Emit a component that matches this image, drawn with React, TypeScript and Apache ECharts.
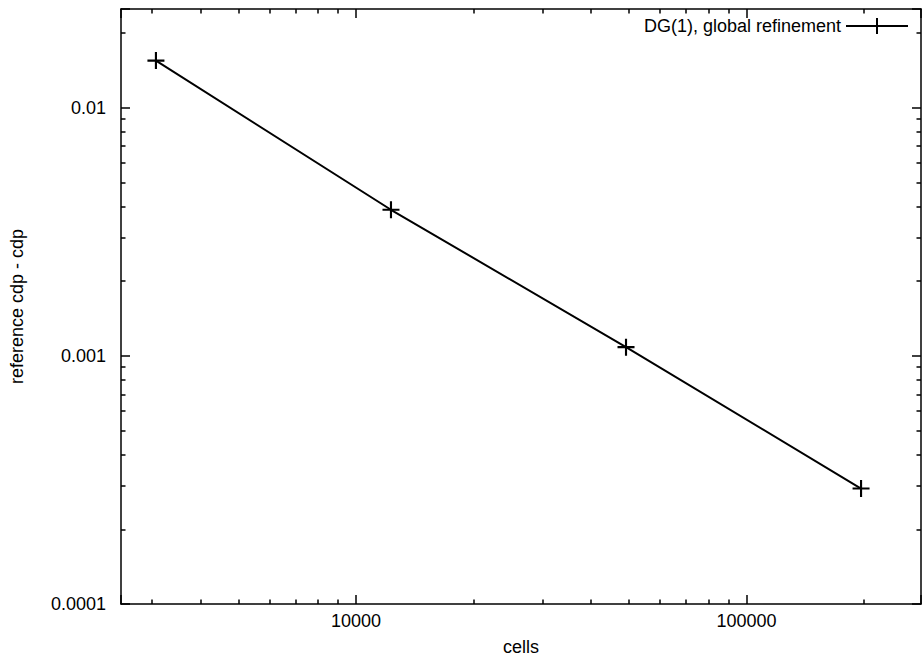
import React, { useEffect, useRef } from "react";
import * as echarts from "echarts";

const seriesName = "DG(1), global refinement";
const cells = [3072, 12288, 49152, 196608];
const errors = [0.01549, 0.00388, 0.001084, 0.000292];

const xRange = [2500, 280000];
const yRange = [0.0001, 0.025];

const xTickValues = [10000, 100000];
const xTickLabels = ["10000", "100000"];
const yTickValues = [0.0001, 0.001, 0.01];
const yTickLabels = ["0.0001", "0.001", "0.01"];

const xMinorValues = [
  3000, 4000, 5000, 6000, 7000, 8000, 9000,
  20000, 30000, 40000, 50000, 60000, 70000, 80000, 90000,
  200000,
];
const yMinorValues = [
  0.0002, 0.0003, 0.0004, 0.0005, 0.0006, 0.0007, 0.0008, 0.0009,
  0.002, 0.003, 0.004, 0.005, 0.006, 0.007, 0.008, 0.009,
  0.02,
];

const FONT = "'Liberation Sans', Arial, Helvetica, sans-serif";
const BLACK = "#000";

function labelFor(values: number[], labels: string[]) {
  return (v: number) => {
    const i = values.findIndex((t) => Math.abs(t - v) / t < 1e-6);
    return i >= 0 ? labels[i] : "";
  };
}

const lineStyle = { color: BLACK, width: 1.5 };

function majorAxis(position: string, range: number[], showLabels: boolean, fmt: any, extra: any = {}) {
  return {
    type: "log",
    logBase: 10,
    position,
    min: range[0],
    max: range[1],
    axisLine: { show: true, lineStyle },
    axisTick: { show: true, inside: true, length: 9, lineStyle },
    axisLabel: {
      show: showLabels,
      formatter: fmt,
      color: BLACK,
      fontSize: 18,
      fontFamily: FONT,
    },
    splitLine: { show: false },
    minorTick: { show: false },
    ...extra,
  };
}

function minorAxis(position: string, range: number[], minor: number[]) {
  return {
    type: "value",
    position,
    min: Math.log10(range[0]),
    max: Math.log10(range[1]),
    axisLine: { show: false },
    axisTick: {
      show: true,
      inside: true,
      length: 4.5,
      lineStyle,
      customValues: minor.map((m) => Math.log10(m)),
    },
    axisLabel: { show: false },
    splitLine: { show: false },
  };
}

export default function App() {
  const ref = useRef<HTMLDivElement>(null);

  useEffect(() => {
    if (!ref.current) return;
    const chart = echarts.init(ref.current, null, { renderer: "svg" });
    const xFmt = labelFor(xTickValues, xTickLabels);
    const yFmt = labelFor(yTickValues, yTickLabels);
    chart.setOption({
      animation: false,
      backgroundColor: "#fff",
      grid: {
        left: 121,
        right: 1,
        top: 9,
        bottom: 56,
        containLabel: false,
        outerBoundsMode: "none",
      },
      legend: {
        right: 13,
        top: 17,
        align: "right",
        itemWidth: 62,
        itemHeight: 20,
        padding: 0,
        textStyle: { color: BLACK, fontSize: 18, fontFamily: FONT },
        data: [seriesName],
      },
      xAxis: [
        majorAxis("bottom", xRange, true, xFmt, {
          name: "cells",
          nameLocation: "middle",
          nameGap: 34,
          nameTextStyle: { color: BLACK, fontSize: 18, fontFamily: FONT },
          axisLabel: {
            show: true,
            formatter: xFmt,
            color: BLACK,
            fontSize: 18,
            fontFamily: FONT,
            margin: 8,
          },
        }),
        minorAxis("bottom", xRange, xMinorValues),
        majorAxis("top", xRange, false, xFmt),
        minorAxis("top", xRange, xMinorValues),
      ],
      yAxis: [
        majorAxis("left", yRange, true, yFmt, {
          name: "reference cdp - cdp",
          nameLocation: "middle",
          nameGap: 95,
          nameTextStyle: { color: BLACK, fontSize: 18, fontFamily: FONT },
          axisLabel: {
            show: true,
            formatter: yFmt,
            color: BLACK,
            fontSize: 18,
            fontFamily: FONT,
            margin: 15,
          },
        }),
        minorAxis("left", yRange, yMinorValues),
        majorAxis("right", yRange, false, yFmt),
        minorAxis("right", yRange, yMinorValues),
      ],
      series: [
        {
          name: seriesName,
          type: "line",
          xAxisIndex: 0,
          yAxisIndex: 0,
          data: cells.map((c, i) => [c, errors[i]]),
          symbol: "path://M0,7H16V9H0Z M7,0H9V16H7Z",
          symbolSize: 17,
          showAllSymbol: true,
          lineStyle: { color: BLACK, width: 2 },
          itemStyle: { color: BLACK },
        },
      ],
    });
    return () => chart.dispose();
  }, []);

  return (
    <div
      ref={ref}
      style={{ position: "absolute", left: 0, top: 0, width: 922, height: 660, background: "#fff" }}
    />
  );
}
